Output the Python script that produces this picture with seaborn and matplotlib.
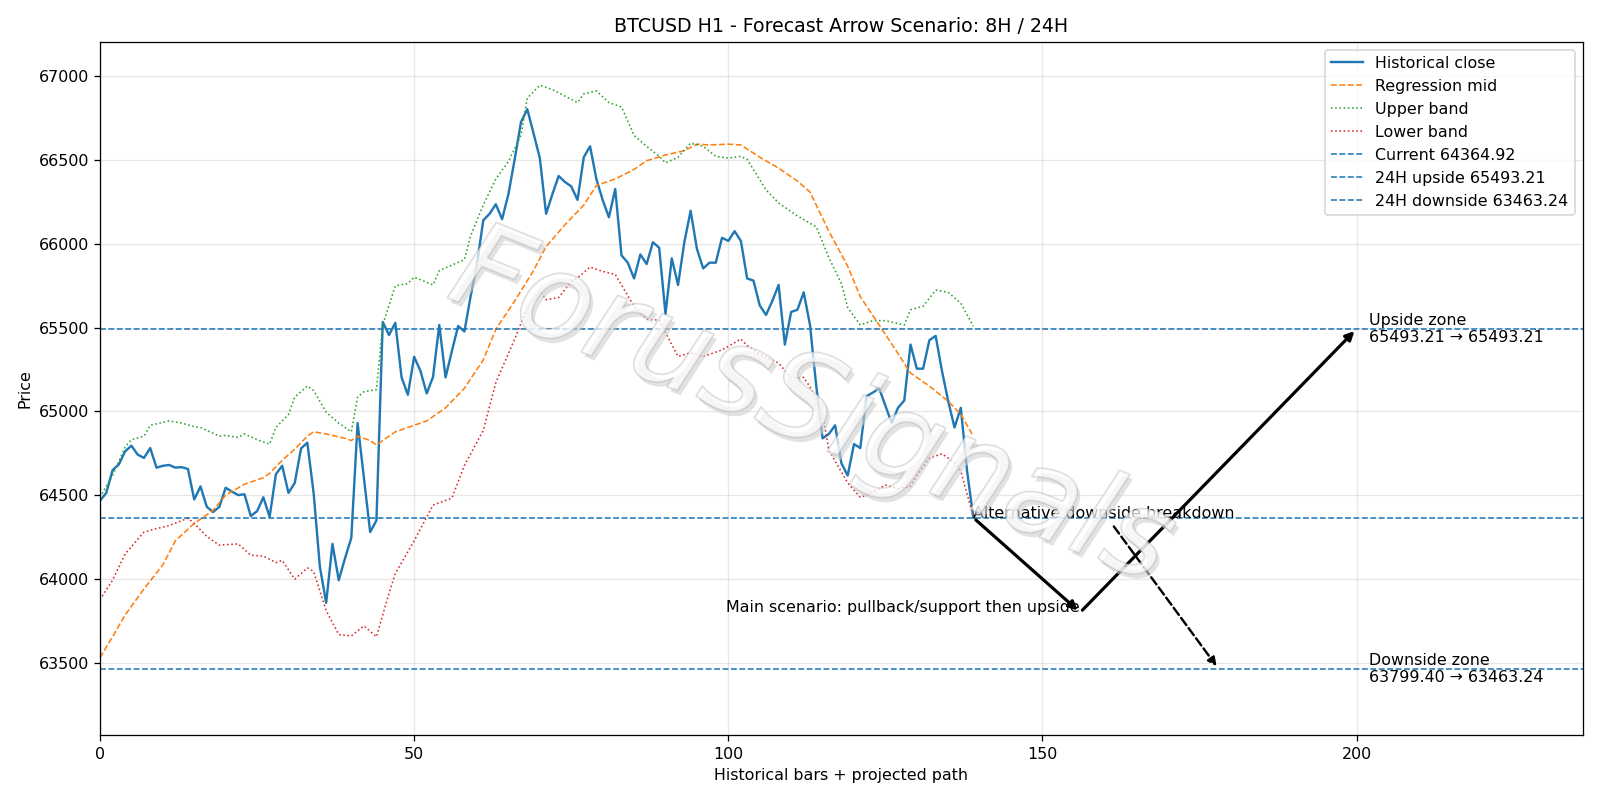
import numpy as np
import pandas as pd
import seaborn as sns
import matplotlib.pyplot as plt
import matplotlib.patheffects as pe

# Historical close, one value per H1 bar (0..139)
close = [
    64466, 64513, 64649, 64683, 64761, 64795, 64742, 64722, 64781, 64664,
    64675, 64680, 64664, 64667, 64656, 64474, 64552, 64430, 64399, 64430,
    64544, 64521, 64500, 64505, 64375, 64404, 64487, 64370, 64625, 64675,
    64513, 64573, 64779, 64813, 64513, 64071, 63857, 64209, 63992, 64123,
    64245, 64930, 64604, 64279, 64349, 65534, 65456, 65529, 65203, 65099,
    65326, 65242, 65107, 65205, 65516, 65203, 65359, 65510, 65477, 65690,
    65880, 66141, 66180, 66237, 66148, 66297, 66505, 66727, 66805, 66661,
    66513, 66180, 66297, 66406, 66370, 66344, 66263, 66518, 66583, 66388,
    66263, 66159, 66328, 65932, 65888, 65794, 65937, 65880, 66010, 65977,
    65581, 65914, 65755, 66010, 66198, 65971, 65854, 65888, 65888, 66037,
    66018, 66076, 66018, 65794, 65781, 65633, 65576, 65659, 65755, 65399,
    65594, 65607, 65711, 65516, 65150, 64839, 64865, 64917, 64690, 64617,
    64805, 64781, 65091, 65112, 65138, 65034, 64930, 65021, 65065, 65399,
    65255, 65255, 65425, 65451, 65242, 65060, 64904, 65021, 64643, 64364.92,
]

# Regression mid / bands read at selected bars
mid_bars = [0, 2, 4, 7, 10, 12, 15, 18, 20, 23, 26, 27, 29, 31, 33, 34, 36, 39, 40, 41,
            43, 44, 47, 50, 52, 55, 58, 61, 63, 66, 69, 71, 74, 77, 79, 82, 85, 87, 90, 93,
            95, 97, 100, 102, 105, 108, 111, 113, 116, 119, 121, 124, 127, 129, 132, 135, 137, 139]
mid_vals = [63529, 63654, 63784, 63940, 64083, 64227, 64331, 64409, 64500, 64565,
            64604, 64630, 64708, 64774, 64852, 64878, 64865, 64839, 64826, 64852,
            64826, 64800, 64878, 64917, 64943, 65021, 65138, 65307, 65490, 65659,
            65841, 65984, 66115, 66232, 66349, 66388, 66445, 66497, 66531, 66557,
            66596, 66591, 66596, 66591, 66518, 66453, 66375, 66310, 66076, 65867,
            65685, 65516, 65346, 65229, 65151, 65060, 64982, 64852]

upper_bars = [0, 2, 4, 5, 7, 8, 11, 13, 15, 16, 19, 20, 22, 23, 25, 27, 28, 30, 31, 33,
              34, 36, 38, 40, 41, 42, 44, 45, 47, 49, 50, 53, 54, 58, 59, 61, 63, 65, 67, 68,
              70, 72, 74, 76, 77, 79, 81, 83, 85, 87, 89, 90, 92, 94, 96, 98, 100, 102, 103, 106,
              108, 111, 114, 116, 118, 119, 121, 123, 125, 128, 129, 131, 133, 135, 137, 139]
upper_vals = [64487, 64617, 64787, 64831, 64852, 64917, 64943, 64930, 64909, 64904,
              64852, 64857, 64844, 64865, 64831, 64805, 64904, 64982, 65086, 65151,
              65125, 64995, 64930, 64878, 65086, 65117, 65130, 65516, 65750, 65763,
              65802, 65755, 65841, 65906, 66050, 66232, 66388, 66492, 66648, 66870,
              66948, 66922, 66883, 66844, 66896, 66914, 66844, 66818, 66648, 66583,
              66523, 66484, 66518, 66602, 66583, 66523, 66513, 66523, 66505, 66323,
              66245, 66167, 66102, 65919, 65763, 65620, 65516, 65542, 65542, 65516,
              65607, 65628, 65724, 65711, 65646, 65508]

lower_bars = [0, 2, 4, 7, 9, 11, 14, 15, 17, 19, 22, 24, 26, 28, 29, 31, 33, 34, 36, 38,
              40, 42, 44, 46, 47, 50, 53, 56, 58, 61, 63, 66, 68, 70, 71, 73, 75, 76, 78, 80,
              82, 85, 87, 89, 90, 92, 94, 96, 99, 102, 103, 105, 108, 110, 112, 113, 115, 116, 119, 121,
              122, 125, 127, 129, 130, 132, 134, 136, 137, 139]
lower_vals = [63875, 63992, 64148, 64279, 64300, 64318, 64362, 64331, 64253, 64201,
              64209, 64141, 64136, 64097, 64110, 63998, 64065, 64044, 63810, 63667,
              63659, 63719, 63654, 63914, 64032, 64227, 64440, 64482, 64677, 64886,
              65172, 65432, 65620, 65719, 65667, 65680, 65776, 65797, 65862, 65836,
              65818, 65628, 65550, 65545, 65472, 65328, 65350, 65328, 65367, 65432,
              65393, 65341, 65289, 65198, 65203, 65146, 64990, 64768, 64573, 64487,
              64500, 64560, 64539, 64552, 64617, 64721, 64747, 64695, 64643, 64370]

current = 64364.92
up_24h = 65493.21
down_24h = 63463.24
pullback = 63799.40

# projected path (bar positions)
last_bar = 139
mid_bar = 156
end_bar = 200
alt_end_bar = 178
label_bar = 202

bars = np.arange(len(close))

fig, ax = plt.subplots(figsize=(14, 7), dpi=800 / 7)

sns.lineplot(x=bars, y=close, ax=ax, color="C0", lw=1.5, label="Historical close")
sns.lineplot(x=mid_bars, y=mid_vals, ax=ax, color="C1", lw=1, linestyle="--", label="Regression mid")
sns.lineplot(x=upper_bars, y=upper_vals, ax=ax, color="C2", lw=1, linestyle=":", label="Upper band")
sns.lineplot(x=lower_bars, y=lower_vals, ax=ax, color="C3", lw=1, linestyle=":", label="Lower band")

ax.axhline(current, color="C0", ls="--", lw=1, label=f"Current {current:.2f}")
ax.axhline(up_24h, color="C0", ls="--", lw=1, label=f"24H upside {up_24h:.2f}")
ax.axhline(down_24h, color="C0", ls="--", lw=1, label=f"24H downside {down_24h:.2f}")

# main scenario arrows
ax.annotate("", xy=(mid_bar, pullback), xytext=(last_bar, current),
            arrowprops=dict(arrowstyle="-|>", color="black", lw=2, mutation_scale=11))
ax.annotate("", xy=(end_bar, up_24h), xytext=(mid_bar, pullback),
            arrowprops=dict(arrowstyle="-|>", color="black", lw=2, mutation_scale=11))
ax.text(mid_bar, pullback, "Main scenario: pullback/support then upside", ha="right", fontsize=10)

# alternative scenario
ax.annotate("Alternative downside breakdown", xy=(alt_end_bar, down_24h), xytext=(last_bar, current),
            fontsize=10,
            arrowprops=dict(arrowstyle="-|>", color="black", lw=1.5, ls="--", mutation_scale=11))

ax.text(label_bar, up_24h, f"Upside zone\n{up_24h:.2f} \u2192 {up_24h:.2f}", va="center", fontsize=10)
ax.text(label_bar, down_24h, f"Downside zone\n{pullback:.2f} \u2192 {down_24h:.2f}", va="center", fontsize=10)

# watermark (light outlined logo text)
ax.text(0.48, 0.47, "ForusSignals", transform=ax.transAxes, fontsize=76, style="italic",
        fontweight="light", rotation=-22, ha="center", va="center", color="white",
        alpha=0.35, zorder=6,
        path_effects=[pe.withSimplePatchShadow(offset=(2, -3), shadow_rgbFace="#d0d0d0", alpha=0.6),
                      pe.withStroke(linewidth=1.2, foreground="#999999")])

ax.set_xlim(0, 236)
ax.set_ylim(63065, 67208)
ax.set_title("BTCUSD H1 - Forecast Arrow Scenario: 8H / 24H")
ax.set_xlabel("Historical bars + projected path")
ax.set_ylabel("Price")
ax.grid(True, alpha=0.3)
ax.legend(loc="upper right")

plt.tight_layout()
plt.savefig("out.png")
